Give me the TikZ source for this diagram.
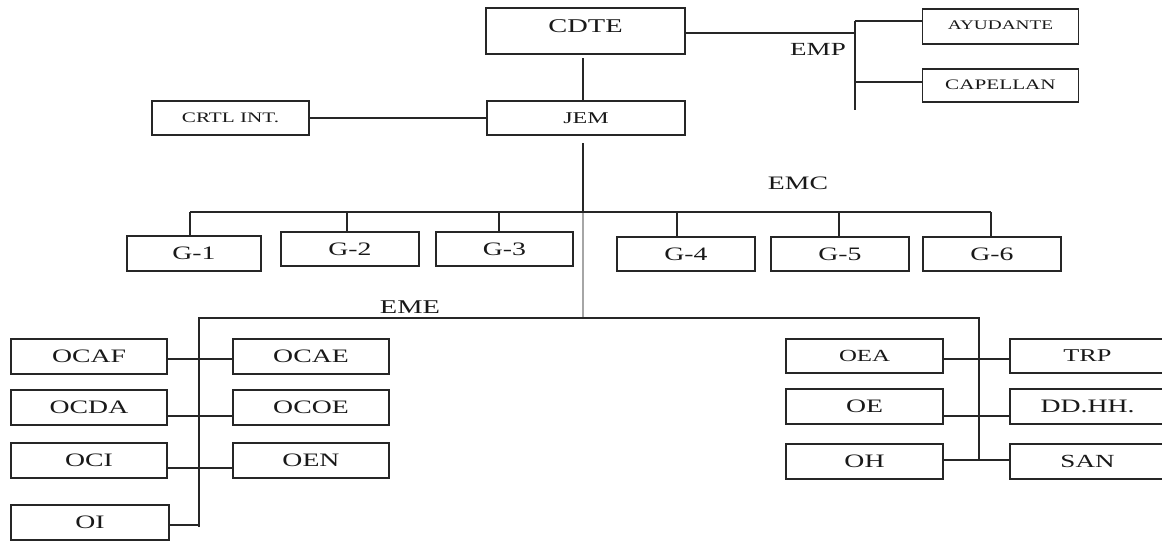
\documentclass[tikz,border=0pt]{standalone}
\usepackage{fontspec}
\setmainfont{Liberation Serif}
\usepackage{graphicx}
\newcommand{\sx}[1]{\scalebox{1.46}[1]{#1}}
\begin{document}
\begin{tikzpicture}[x=1pt,y=-1pt,
  box/.style={draw=black!85, line width=1.8pt, inner sep=0pt, text=black!90,
              font=\fontsize{19}{22}\selectfont},
  conn/.style={draw=black!85, line width=1.7pt},
  grayline/.style={draw=black!35, line width=1.8pt},
  lbl/.style={inner sep=0pt, text=black!90, font=\fontsize{19}{22}\selectfont}]
\useasboundingbox (0,0) rectangle (1162,541);
\clip (0,0) rectangle (1162,541);
\fill[white] (0,0) rectangle (1162,541);

% top level
\node[box, minimum width=199pt, minimum height=46pt] (CDTE) at (585.5,31) {};
\node[lbl, font=\fontsize{19.5}{22}\selectfont] (CDTEt) at (585.5,26.5) {\sx{CDTE}};
\node[box, minimum width=198pt, minimum height=34pt, font=\fontsize{16.5}{20}\selectfont] (JEM) at (586,118) {\sx{JEM}};
\node[box, minimum width=157pt, minimum height=34pt, font=\fontsize{14.5}{18}\selectfont] (CRTL) at (230.5,118) {\sx{CRTL INT.}};
\node[box, minimum width=156pt, minimum height=35pt, font=\fontsize{13.2}{16}\selectfont] (AYU) at (1000.5,26.5) {\raisebox{2pt}{\sx{AYUDANTE}}};
\node[box, minimum width=156pt, minimum height=33pt, font=\fontsize{14.5}{17}\selectfont] (CAP) at (1000.5,85.5) {\raisebox{2pt}{\sx{CAPELLAN}}};

% EMP group
\coordinate (empT) at (855,21);
\coordinate (empM) at (855,33);
\coordinate (empC) at (855,82);
\coordinate (empB) at (855,110);
\draw[conn] (empT) -- (empB);
\draw[conn] (CDTE.east |- empM) -- (empM);
\draw[conn] (empT) -- (empT -| AYU.west);
\draw[conn] (empC) -- (empC -| CAP.west);
\node[lbl, font=\fontsize{18.5}{22}\selectfont] (EMP) at (818,49) {\sx{EMP}};

% CDTE - JEM - CRTL
\coordinate (cj1) at (583,58);
\coordinate (cj2) at (583,101);
\draw[conn] (cj1) -- (cj2);
\draw[conn] (CRTL.east) -- (JEM.west);

% spine
\coordinate (spTop) at (583,143);
\coordinate (spMid) at (583,212);
\coordinate (spBot) at (583,318);
\draw[conn] (spTop) -- (spMid);
\draw[grayline] (spMid) -- (spBot);

% EMC
\node[lbl] (EMC) at (798,183) {\sx{EMC}};
\coordinate (emcL) at (190,212);
\coordinate (emcR) at (991,212);
\draw[conn] (emcL) -- (emcR);
\node[box, minimum width=134pt, minimum height=35pt] (G1) at (194,253.5) {\sx{G-1}};
\node[box, minimum width=138pt, minimum height=34pt] (G2) at (350,249) {\sx{G-2}};
\node[box, minimum width=137pt, minimum height=34pt] (G3) at (504.5,249) {\sx{G-3}};
\node[box, minimum width=138pt, minimum height=34pt] (G4) at (686,254) {\sx{G-4}};
\node[box, minimum width=138pt, minimum height=34pt] (G5) at (840,254) {\sx{G-5}};
\node[box, minimum width=138pt, minimum height=34pt] (G6) at (992,254) {\sx{G-6}};
\coordinate (d1) at (190,212);
\coordinate (d2) at (347,212);
\coordinate (d3) at (499,212);
\coordinate (d4) at (677,212);
\coordinate (d5) at (839,212);
\coordinate (d6) at (991,212);
\draw[conn] (d1) -- (d1 |- G1.north);
\draw[conn] (d2) -- (d2 |- G2.north);
\draw[conn] (d3) -- (d3 |- G3.north);
\draw[conn] (d4) -- (d4 |- G4.north);
\draw[conn] (d5) -- (d5 |- G5.north);
\draw[conn] (d6) -- (d6 |- G6.north);

% EME
\node[lbl, font=\fontsize{19.5}{22}\selectfont] (EME) at (410,307) {\sx{EME}};
\coordinate (emeLB) at (199,527);
\coordinate (emeL) at (199,318);
\coordinate (emeR) at (979,318);
\coordinate (emeRB) at (979,460);
\draw[conn] (emeLB) -- (emeL) -- (emeR) -- (emeRB);

% left EME boxes
\node[box, minimum width=156pt, minimum height=35pt] (OCAF) at (89,356.5) {\sx{OCAF}};
\node[box, minimum width=156pt, minimum height=35pt] (OCAE) at (311,356.5) {\sx{OCAE}};
\node[box, minimum width=156pt, minimum height=35pt] (OCDA) at (89,407.5) {\sx{OCDA}};
\node[box, minimum width=156pt, minimum height=35pt] (OCOE) at (311,407.5) {\sx{OCOE}};
\node[box, minimum width=156pt, minimum height=35pt] (OCI) at (89,460.5) {\sx{OCI}};
\node[box, minimum width=156pt, minimum height=35pt] (OEN) at (311,460.5) {\sx{OEN}};
\node[box, minimum width=158pt, minimum height=35pt] (OI) at (90,522.5) {\sx{OI}};
\coordinate (l1) at (199,359);
\coordinate (l2) at (199,416);
\coordinate (l3) at (199,468);
\coordinate (l4) at (199,525);
\draw[conn] (l1 -| OCAF.east) -- (l1 -| OCAE.west);
\draw[conn] (l2 -| OCDA.east) -- (l2 -| OCOE.west);
\draw[conn] (l3 -| OCI.east) -- (l3 -| OEN.west);
\draw[conn] (l4 -| OI.east) -- (l4);

% right EME boxes
\node[box, minimum width=157pt, minimum height=34pt, font=\fontsize{17}{20}\selectfont] (OEA) at (864.5,356) {\sx{OEA}};
\node[box, minimum width=155pt, minimum height=34pt, font=\fontsize{18}{21}\selectfont] (TRP) at (1087.5,356) {\sx{TRP}};
\node[box, minimum width=157pt, minimum height=35pt] (OE) at (864.5,406.5) {\sx{OE}};
\node[box, minimum width=155pt, minimum height=35pt] (DD) at (1087.5,406.5) {\sx{DD.HH.}};
\node[box, minimum width=157pt, minimum height=35pt] (OH) at (864.5,461.5) {\sx{OH}};
\node[box, minimum width=155pt, minimum height=35pt, font=\fontsize{18.5}{21}\selectfont] (SAN) at (1087.5,461.5) {\sx{SAN}};
\coordinate (r1) at (979,359);
\coordinate (r2) at (979,416);
\coordinate (r3) at (979,460);
\draw[conn] (r1 -| OEA.east) -- (r1 -| TRP.west);
\draw[conn] (r2 -| OE.east) -- (r2 -| DD.west);
\draw[conn] (r3 -| OH.east) -- (r3 -| SAN.west);
\end{tikzpicture}
\end{document}
